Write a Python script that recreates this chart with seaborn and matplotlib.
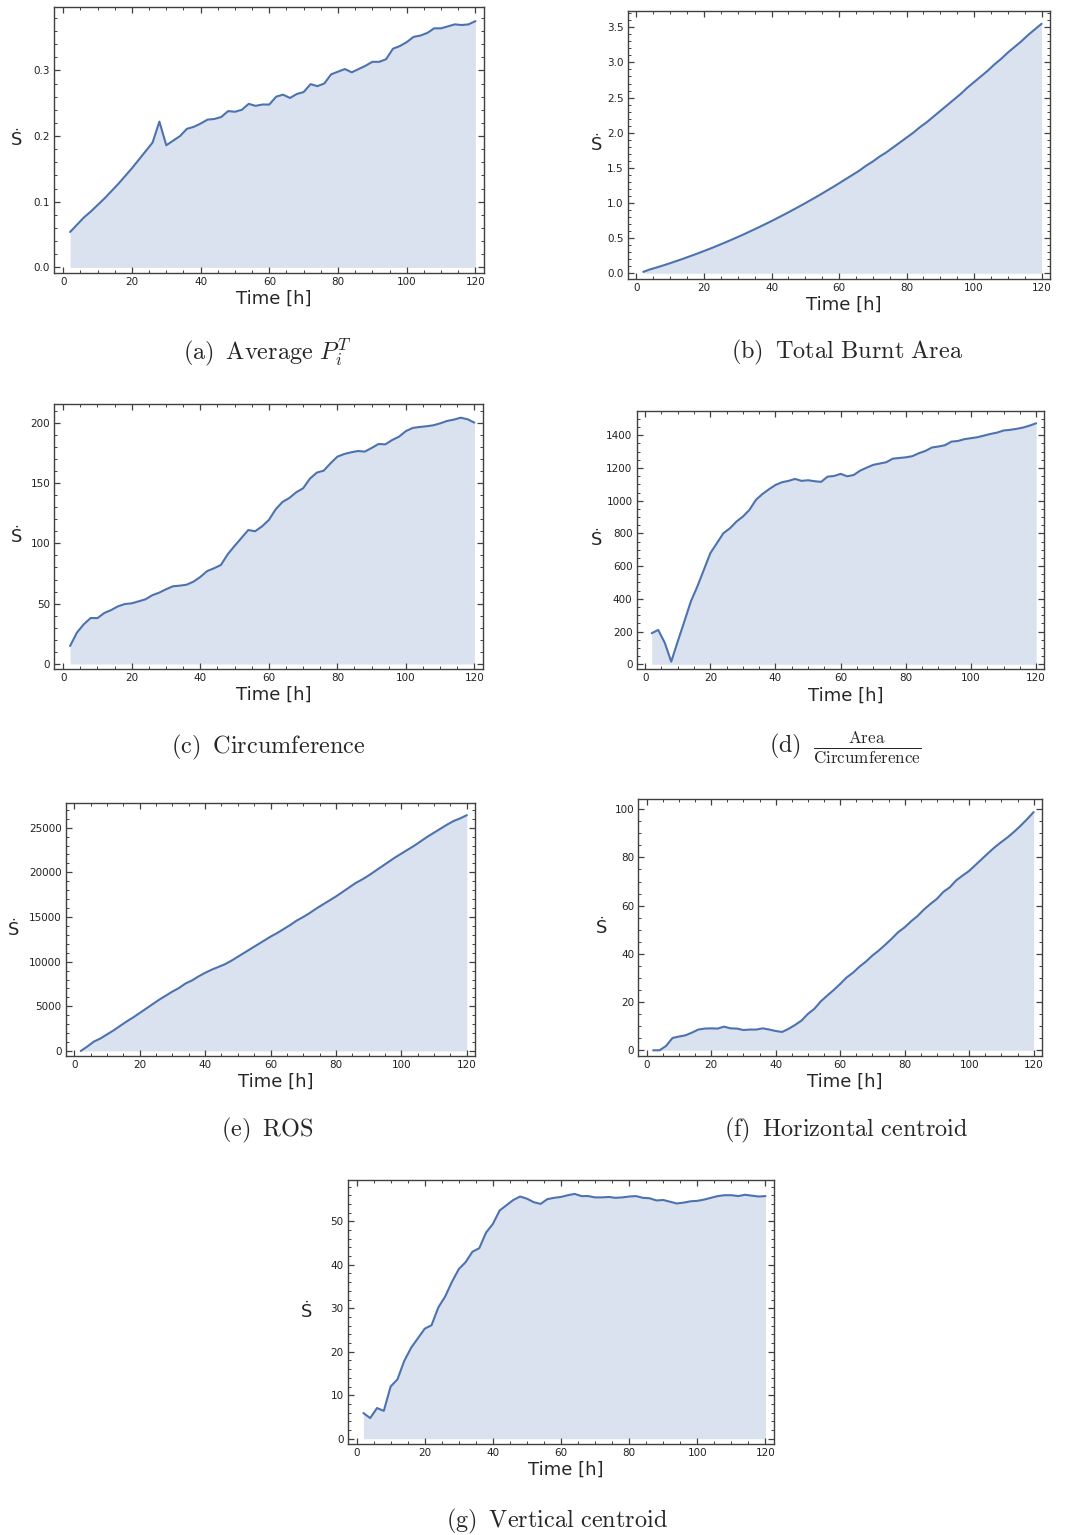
import numpy as np
import pandas as pd
import seaborn as sns
import matplotlib
matplotlib.use("Agg")
import matplotlib.pyplot as plt
from matplotlib.ticker import MultipleLocator

sns.set_style("ticks")
plt.rcParams['font.family'] = ['DejaVu Sans']
plt.rcParams['mathtext.fontset'] = 'cm'

# time grid [h]
time = list(range(2, 122, 2))

avg_p = [0.054, 0.065, 0.076, 0.085, 0.095, 0.105, 0.116, 0.127, 0.139, 0.151,
         0.164, 0.177, 0.190, 0.222, 0.186, 0.193, 0.200, 0.211, 0.214, 0.219,
         0.225, 0.226, 0.229, 0.238, 0.237, 0.240, 0.249, 0.246, 0.248, 0.248,
         0.260, 0.263, 0.258, 0.264, 0.267, 0.279, 0.276, 0.280, 0.294, 0.298,
         0.302, 0.297, 0.302, 0.307, 0.313, 0.313, 0.317, 0.333, 0.337, 0.343,
         0.351, 0.353, 0.357, 0.364, 0.364, 0.367, 0.370, 0.369, 0.370, 0.375]

burnt_area = [0.02, 0.055, 0.083, 0.113, 0.144, 0.177, 0.210, 0.245, 0.280, 0.317,
              0.354, 0.393, 0.433, 0.474, 0.516, 0.559, 0.604, 0.649, 0.696, 0.743,
              0.792, 0.842, 0.893, 0.945, 0.998, 1.052, 1.107, 1.164, 1.221, 1.280,
              1.34, 1.40, 1.46, 1.53, 1.59, 1.66, 1.72, 1.79, 1.86, 1.93,
              2.00, 2.08, 2.15, 2.23, 2.31, 2.39, 2.47, 2.55, 2.64, 2.72,
              2.80, 2.88, 2.97, 3.05, 3.14, 3.22, 3.30, 3.39, 3.47, 3.55]

circumference = [14.9, 26.0, 32.9, 38.1, 38.0, 42.3, 44.7, 47.8, 49.7, 50.3,
                 51.9, 53.6, 57.0, 59.1, 61.9, 64.4, 64.9, 65.7, 68.2, 72.1,
                 77.0, 79.3, 82.0, 90.9, 97.8, 104.4, 111.0, 110.0, 114.0, 119.3,
                 128.2, 134.3, 137.6, 142.3, 145.6, 153.6, 158.6, 160.2, 166.3, 171.8,
                 174.0, 175.4, 176.5, 176.0, 179.0, 182.3, 182.0, 185.6, 188.4, 193.0,
                 195.6, 196.4, 197.0, 197.8, 199.4, 201.4, 202.5, 204.1, 202.8, 200.0]

area_circ = [190, 210, 132, 16, 140, 260, 383, 475, 577, 679,
             740, 801, 831, 872, 903, 944, 1005, 1041, 1070, 1096,
             1113, 1121, 1133, 1121, 1125, 1119, 1115, 1147, 1151, 1164,
             1149, 1157, 1184, 1202, 1219, 1227, 1235, 1257, 1261, 1265,
             1272, 1290, 1304, 1325, 1331, 1339, 1361, 1365, 1376, 1382,
             1388, 1398, 1408, 1416, 1429, 1433, 1439, 1447, 1459, 1473]

ros = [0, 500, 1050, 1400, 1850, 2300, 2800, 3300, 3750, 4250,
       4750, 5250, 5750, 6200, 6650, 7050, 7550, 7900, 8350, 8750,
       9100, 9400, 9700, 10100, 10550, 11000, 11450, 11900, 12350, 12800,
       13200, 13650, 14100, 14600, 15000, 15450, 15950, 16400, 16850, 17300,
       17800, 18300, 18800, 19200, 19650, 20150, 20650, 21150, 21650, 22100,
       22550, 23000, 23500, 24000, 24450, 24900, 25350, 25750, 26050, 26400]

horiz_centroid = [0.0, 0.0, 1.8, 5.1, 5.7, 6.2, 7.3, 8.6, 9.0, 9.1,
                  9.0, 9.8, 9.1, 9.0, 8.4, 8.6, 8.6, 9.1, 8.6, 8.0,
                  7.6, 8.9, 10.5, 12.3, 15.1, 17.2, 20.3, 22.7, 25.0, 27.5,
                  30.2, 32.2, 34.7, 36.8, 39.3, 41.4, 43.8, 46.3, 49.0, 51.0,
                  53.5, 55.7, 58.4, 60.7, 62.8, 65.7, 67.6, 70.5, 72.5, 74.4,
                  76.9, 79.4, 81.9, 84.3, 86.4, 88.4, 90.7, 93.2, 95.9, 98.8]

vert_centroid = [5.9, 4.75, 7.05, 6.4, 12.0, 13.65, 17.9, 20.9, 23.1, 25.3,
                 26.1, 30.2, 32.7, 36.1, 39.0, 40.6, 43.0, 43.8, 47.4, 49.4,
                 52.5, 53.7, 54.9, 55.7, 55.2, 54.4, 54.0, 55.1, 55.4, 55.6,
                 56.0, 56.3, 55.8, 55.8, 55.5, 55.5, 55.6, 55.4, 55.5, 55.7,
                 55.8, 55.4, 55.3, 54.8, 54.9, 54.5, 54.1, 54.3, 54.6, 54.7,
                 55.0, 55.4, 55.8, 56.0, 56.0, 55.8, 56.1, 55.9, 55.7, 55.8]

captions = [r"$\mathrm{(a)\;\; Average\ }P_i^T$",
            r"$\mathrm{(b)\;\; Total\ Burnt\ Area}$",
            r"$\mathrm{(c)\;\; Circumference}$",
            r"$\mathrm{(d)}\;\;\frac{\mathrm{Area}}{\mathrm{Circumference}}$",
            r"$\mathrm{(e)\;\; ROS}$",
            r"$\mathrm{(f)\;\; Horizontal\ centroid}$",
            r"$\mathrm{(g)\;\; Vertical\ centroid}$"]

W, H = 1068, 1535
fig = plt.figure(figsize=(W / 100, H / 100), dpi=100)
line_col = sns.color_palette("deep")[0]
frame_col = "#404040"


def panel(box, values, ylim, ymajor, yminor, ylab_dx, caption, cap_xy):
    L, R, T, B = box
    ax = fig.add_axes([L / W, 1 - B / H, (R - L) / W, (B - T) / H])
    df = pd.DataFrame({"t": time, "v": values})
    ax.fill_between(df["t"], df["v"], 0, color=line_col, alpha=0.2, lw=0)
    sns.lineplot(data=df, x="t", y="v", ax=ax, color=line_col, lw=1.5)
    ax.set_xlim(-2.6, 122.5)
    ax.set_ylim(*ylim)
    ax.xaxis.set_major_locator(MultipleLocator(20))
    ax.xaxis.set_minor_locator(MultipleLocator(5))
    ax.yaxis.set_major_locator(MultipleLocator(ymajor))
    ax.yaxis.set_minor_locator(MultipleLocator(yminor))
    ax.tick_params(which="both", direction="in", top=True, right=True,
                   color=frame_col, labelsize=7.5, labelcolor="#222222")
    ax.tick_params(which="major", length=4, width=0.9, pad=3)
    ax.tick_params(which="minor", length=2, width=0.7)
    for s in ax.spines.values():
        s.set_color(frame_col)
        s.set_linewidth(1.0)
    ax.set_xlabel("Time [h]", fontsize=13)
    ax.xaxis.set_label_coords(0.5 + 5 / (R - L), -26 / (B - T))
    ax.xaxis.label.set_va("center")
    ax.set_ylabel("Ṡ", fontsize=13, rotation=0, ha="center", va="center")
    ax.yaxis.set_label_coords(ylab_dx / (R - L), 0.5)
    fig.text(cap_xy[0] / W, 1 - cap_xy[1] / H, caption, fontsize=17.5,
             ha="center", va="center")
    return ax


panel((54.3, 484, 7.3, 272.7), avg_p, (-0.008, 0.396), 0.1, 0.02, -38,
      captions[0], (267, 352))
panel((627.7, 1050, 10.7, 278.7), burnt_area, (-0.077, 3.736), 0.5, 0.1, -31,
      captions[1], (847, 352))
panel((54.3, 483, 404.3, 668.7), circumference, (-3.9, 215.2), 50, 10, -38,
      captions[2], (268, 747))
panel((636.7, 1044.3, 410.7, 669.3), area_circ, (-30.6, 1550), 200, 50, -40,
      captions[3], (845, 748))
panel((65.7, 475, 803.3, 1056), ros, (-560, 27730), 5000, 1000, -52,
      captions[4], (267, 1130))
panel((638.3, 1041.7, 799.3, 1056), horiz_centroid, (-2.37, 104.1), 20, 5, -37,
      captions[5], (846, 1130))
panel((347.7, 774, 1180, 1444), vert_centroid, (-1.22, 59.5), 10, 2, -41,
      captions[6], (557, 1521))

fig.savefig("out.png", dpi=100)
